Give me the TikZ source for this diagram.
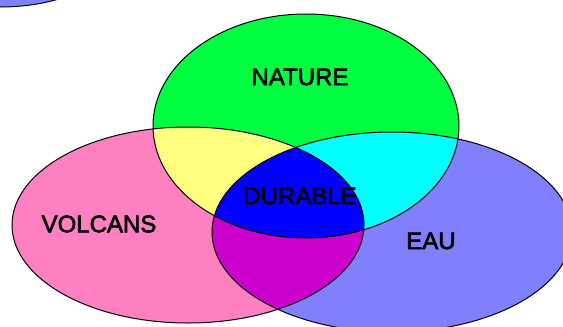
\documentclass[tikz,border=0pt]{standalone}
\usepackage{fontspec}
\setmainfont{Liberation Sans}
\newfontfamily\lblfont[FakeBold=2.5]{Liberation Sans}
\definecolor{cgreen}{RGB}{0,255,64}
\definecolor{cpink}{RGB}{255,128,192}
\definecolor{cblue}{RGB}{128,128,255}
\definecolor{cyellow}{RGB}{255,255,128}
\definecolor{ccyan}{RGB}{0,255,255}
\definecolor{cmagenta}{RGB}{204,0,204}
\definecolor{cdeep}{RGB}{0,0,255}
\tikzset{
  outline/.style={draw=black, line width=1pt},
  lbl/.style={font=\lblfont\fontsize{24}{28}\selectfont, text=black, inner sep=0pt}
}
\begin{document}
\begin{tikzpicture}[x=1pt,y=-1pt]
\useasboundingbox (0,0) rectangle (563,327);
\clip (0,0) rectangle (563,327);
\fill[white] (0,0) rectangle (563,327);
% top-left partial ellipse
\path[fill=cblue, outline] (0,-60) ellipse [x radius=124pt, y radius=67pt];
% base fills
\fill[cpink] (188,225) ellipse [x radius=176pt, y radius=98pt];
\fill[cblue] (392,232) ellipse [x radius=180pt, y radius=100pt];
\fill[cgreen] (306,126) ellipse [x radius=153pt, y radius=112pt];
% pairwise intersections
\begin{scope}
  \clip (188,225) ellipse [x radius=176pt, y radius=98pt];
  \fill[cyellow] (306,126) ellipse [x radius=153pt, y radius=112pt];
  \fill[cmagenta] (392,232) ellipse [x radius=180pt, y radius=100pt];
\end{scope}
\begin{scope}
  \clip (306,126) ellipse [x radius=153pt, y radius=112pt];
  \fill[ccyan] (392,232) ellipse [x radius=180pt, y radius=100pt];
\end{scope}
% triple intersection
\begin{scope}
  \clip (188,225) ellipse [x radius=176pt, y radius=98pt];
  \clip (306,126) ellipse [x radius=153pt, y radius=112pt];
  \fill[cdeep] (392,232) ellipse [x radius=180pt, y radius=100pt];
\end{scope}
% outlines
\draw[outline] (188,225) ellipse [x radius=176pt, y radius=98pt];
\draw[outline] (392,232) ellipse [x radius=180pt, y radius=100pt];
\draw[outline] (306,126) ellipse [x radius=153pt, y radius=112pt];
% labels
\node[lbl] (nature) at (300,77) {NATURE};
\node[lbl] (durable) at (300,196) {DURABLE};
\node[lbl] (volcans) at (99,224) {VOLCANS};
\node[lbl] (eau) at (431,241) {EAU};
\end{tikzpicture}
\end{document}
